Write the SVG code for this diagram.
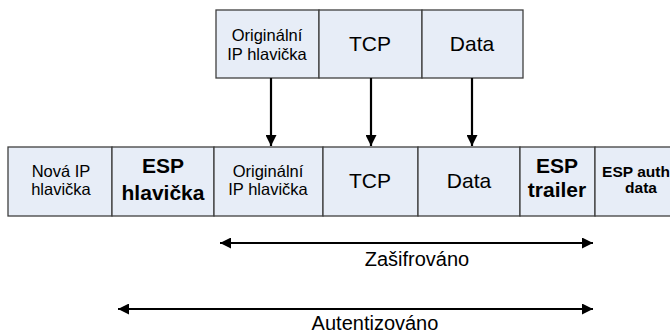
<svg xmlns="http://www.w3.org/2000/svg" width="670" height="334" viewBox="0 0 670 334">
  <defs>
    <style>
      .cell { fill: #e7edf7; stroke: #3f3f3f; stroke-width: 1.3; }
      .t { font-family: "Liberation Sans", Arial, sans-serif; fill: #000; text-anchor: middle; }
      .s { font-size: 16.5px; }
      .m { font-size: 21px; }
      .b { font-weight: bold; font-size: 21px; }
      .bs { font-weight: bold; font-size: 15.5px; }
      .lbl { font-size: 20px; }
      .conn { stroke: #000; stroke-width: 2.2; fill: none; }
    </style>
    <marker id="ah" viewBox="0 0 10 10" refX="10" refY="5" markerWidth="5" markerHeight="5" orient="auto-start-reverse" markerUnits="strokeWidth">
      <path d="M0,0 L10,5 L0,10 z" fill="#000"/>
    </marker>
  </defs>

  <!-- original packet -->
  <g id="orig-ip">
    <rect class="cell" x="216" y="10" width="103" height="68"/>
    <text class="t s" x="267" y="41">Originální</text>
    <text class="t s" x="267" y="60">IP hlavička</text>
  </g>
  <g id="orig-tcp">
    <rect class="cell" x="319" y="10" width="103" height="68"/>
    <text class="t m" x="370" y="51">TCP</text>
  </g>
  <g id="orig-data">
    <rect class="cell" x="422" y="10" width="101" height="68"/>
    <text class="t m" x="472" y="51">Data</text>
  </g>

  <!-- ESP tunnel packet -->
  <g id="new-ip">
    <rect class="cell" x="8" y="147" width="104" height="69"/>
    <text class="t s" x="61" y="177">Nová IP</text>
    <text class="t s" x="61" y="195">hlavička</text>
  </g>
  <g id="esp-header">
    <rect class="cell" x="112" y="147" width="102" height="69"/>
    <text class="t b" x="163" y="173">ESP</text>
    <text class="t b" x="163" y="200">hlavička</text>
  </g>
  <g id="inner-ip">
    <rect class="cell" x="214" y="147" width="109" height="69"/>
    <text class="t s" x="268" y="177">Originální</text>
    <text class="t s" x="268" y="195">IP hlavička</text>
  </g>
  <g id="inner-tcp">
    <rect class="cell" x="323" y="147" width="95" height="69"/>
    <text class="t m" x="370" y="188">TCP</text>
  </g>
  <g id="inner-data">
    <rect class="cell" x="418" y="147" width="102" height="69"/>
    <text class="t m" x="469" y="188">Data</text>
  </g>
  <g id="esp-trailer">
    <rect class="cell" x="520" y="147" width="75" height="69"/>
    <text class="t b" x="557" y="173">ESP</text>
    <text class="t b" x="557" y="197">trailer</text>
  </g>
  <g id="esp-auth">
    <rect class="cell" x="595" y="147" width="100" height="69"/>
    <text class="t bs" x="636" y="177">ESP auth</text>
    <text class="t bs" x="641" y="193">data</text>
  </g>

  <!-- connectors -->
  <g id="connectors">
    <line class="conn" x1="271" y1="78" x2="271" y2="146" marker-end="url(#ah)"/>
    <line class="conn" x1="371" y1="78" x2="371" y2="146" marker-end="url(#ah)"/>
    <line class="conn" x1="472" y1="78" x2="472" y2="146" marker-end="url(#ah)"/>
    <line class="conn" x1="220" y1="243" x2="593" y2="243" marker-start="url(#ah)" marker-end="url(#ah)"/>
    <line class="conn" x1="118" y1="309" x2="593" y2="309" marker-start="url(#ah)" marker-end="url(#ah)"/>
  </g>

  <text class="t lbl" x="417" y="266">Zašifrováno</text>
  <text class="t lbl" x="375" y="330">Autentizováno</text>
</svg>
